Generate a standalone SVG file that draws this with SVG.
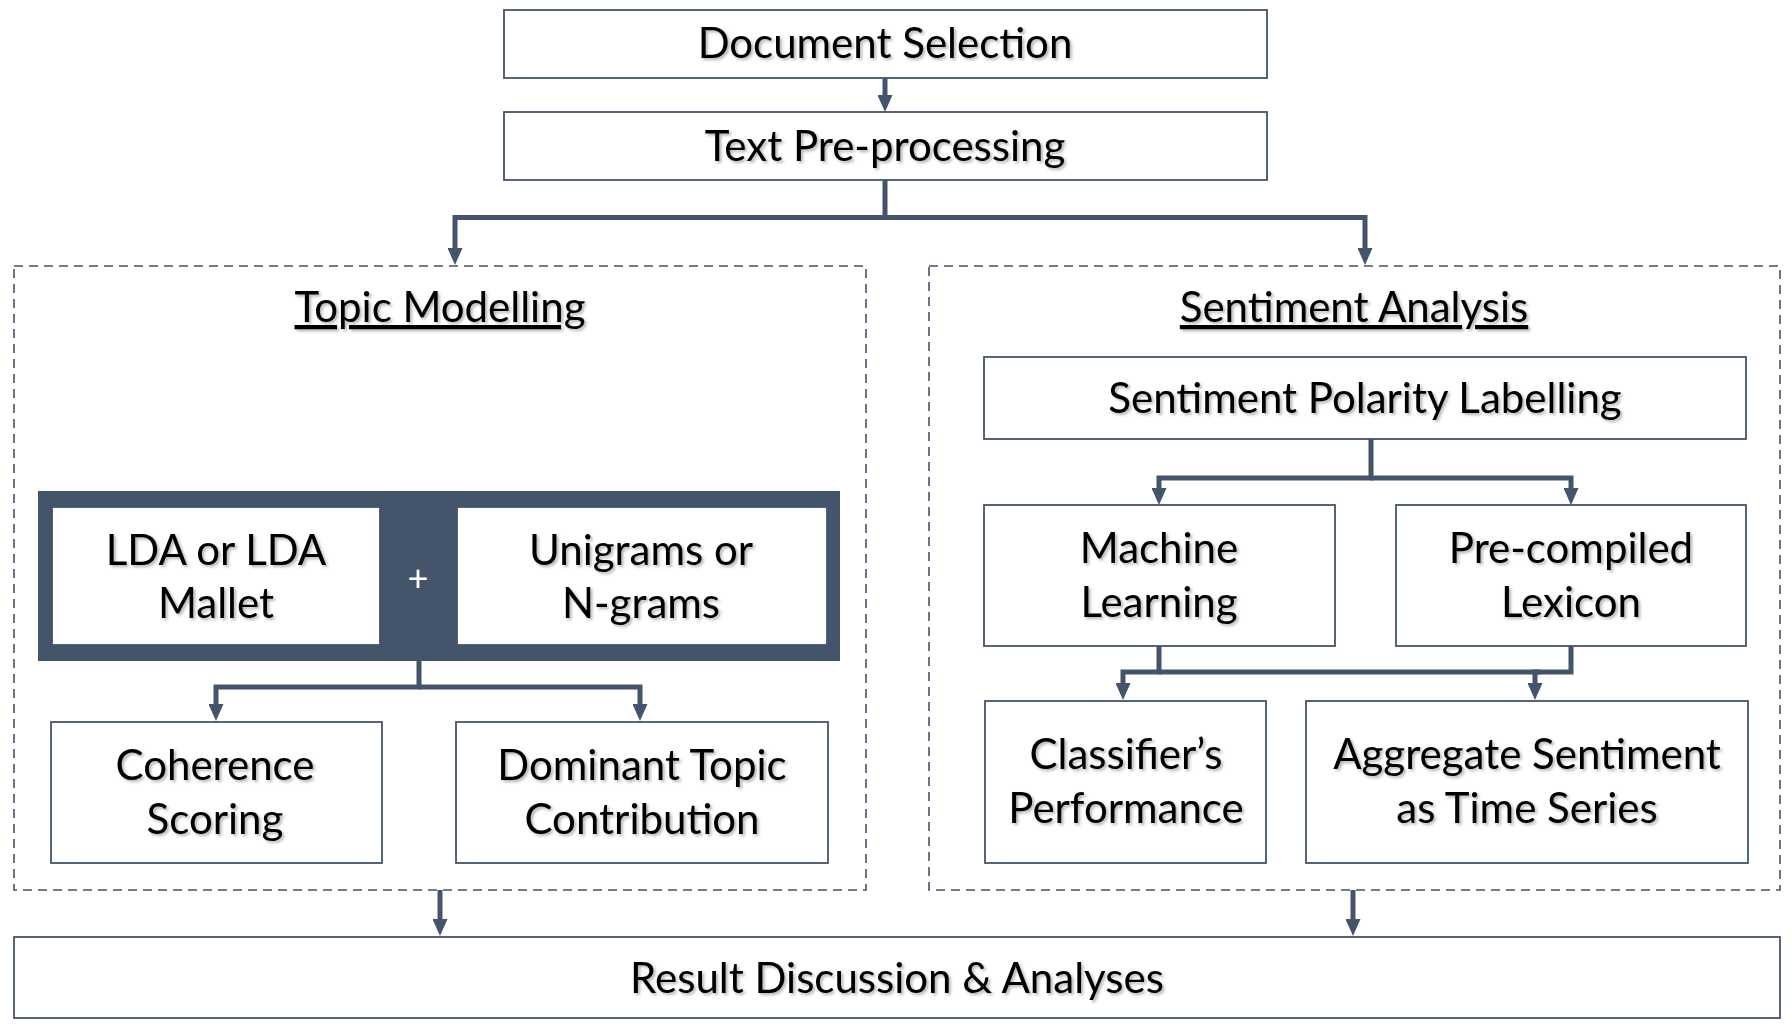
<svg xmlns="http://www.w3.org/2000/svg" width="1792" height="1029" viewBox="0 0 1792 1029">
<defs>
<style>
.box{fill:#fff;stroke:#44546A;stroke-width:1.8}
.dash{fill:none;stroke:#44546A;stroke-width:1.6;stroke-dasharray:9 6}
.t{font-family:Lato,"Open Sans",sans-serif;font-size:42px;fill:#000;text-anchor:middle;filter:url(#sh)}
.ttl{text-decoration:underline}
.c{fill:none;stroke:#44546A;stroke-width:5;stroke-linejoin:miter}
.a{marker-end:url(#ah)}
</style>
<filter id="sh" x="-10%" y="-30%" width="120%" height="160%">
<feDropShadow dx="2" dy="2" stdDeviation="1.5" flood-color="#000" flood-opacity="0.3"/>
</filter>
<marker id="ah" viewBox="0 0 17 15" refX="2" refY="7.5" markerWidth="17" markerHeight="15" markerUnits="userSpaceOnUse" orient="auto">
<path d="M0,0 L17,7.5 L0,15 z" fill="#44546A"/>
</marker>
</defs>
<rect width="1792" height="1029" fill="#fff"/>

<g id="topic-modelling-group">
<rect class="dash" x="14" y="266" width="852" height="624"/>
<text class="t ttl" x="440" y="322">Topic Modelling</text>
</g>
<g id="sentiment-analysis-group">
<rect class="dash" x="929" y="266" width="851" height="624"/>
<text class="t ttl" x="1354" y="322">Sentiment Analysis</text>
</g>

<g id="connectors">
<path class="c a" d="M885,78 V97"/>
<path class="c a" d="M885,180 V217.5 H455 V250"/>
<path class="c a" d="M885,217.5 H1365 V250"/>
<path class="c a" d="M419,661 V687 H216 V706"/>
<path class="c a" d="M419,687 H640 V706"/>
<path class="c a" d="M1371,439 V478 H1159 V490"/>
<path class="c a" d="M1371,478 H1571 V490"/>
<path class="c a" d="M1159,646 V672 H1123 V685"/>
<path class="c a" d="M1571,646 V672 H1535 V685"/>
<path class="c" d="M1159,672 H1540"/>
<path class="c a" d="M440,890 V921"/>
<path class="c a" d="M1353,890 V921"/>
</g>

<g id="document-selection">
<rect class="box" x="504" y="10" width="763" height="68"/>
<text class="t" x="885" y="58">Document Selection</text>
</g>
<g id="text-preprocessing">
<rect class="box" x="504" y="112" width="763" height="68"/>
<text class="t" x="885" y="161">Text Pre-processing</text>
</g>

<g id="lda-ngrams">
<rect x="38" y="491" width="802" height="170" fill="#44546A"/>
<text x="418" y="591" font-family="Lato,sans-serif" font-size="36" fill="#fff" text-anchor="middle">+</text>
</g>
<g id="lda">
<rect class="box" x="52" y="507" width="328" height="138" stroke="#8497B0"/>
<text class="t" x="216" y="565">LDA or LDA</text>
<text class="t" x="216" y="618">Mallet</text>
</g>
<g id="unigrams">
<rect class="box" x="457" y="507" width="370" height="138" stroke="#8497B0"/>
<text class="t" x="641" y="565">Unigrams or</text>
<text class="t" x="641" y="618">N-grams</text>
</g>
<g id="coherence">
<rect class="box" x="51" y="722" width="331" height="141"/>
<text class="t" x="215" y="780">Coherence</text>
<text class="t" x="215" y="834">Scoring</text>
</g>
<g id="dominant-topic">
<rect class="box" x="456" y="722" width="372" height="141"/>
<text class="t" x="642" y="780">Dominant Topic</text>
<text class="t" x="642" y="834">Contribution</text>
</g>

<g id="sentiment-polarity">
<rect class="box" x="984" y="357" width="762" height="82"/>
<text class="t" x="1365" y="413">Sentiment Polarity Labelling</text>
</g>
<g id="machine-learning">
<rect class="box" x="984" y="505" width="351" height="141"/>
<text class="t" x="1159" y="563">Machine</text>
<text class="t" x="1159" y="617">Learning</text>
</g>
<g id="lexicon">
<rect class="box" x="1396" y="505" width="350" height="141"/>
<text class="t" x="1571" y="563">Pre-compiled</text>
<text class="t" x="1571" y="617">Lexicon</text>
</g>
<g id="classifier">
<rect class="box" x="985" y="701" width="281" height="162"/>
<text class="t" x="1126" y="769">Classifier’s</text>
<text class="t" x="1126" y="823">Performance</text>
</g>
<g id="aggregate">
<rect class="box" x="1306" y="701" width="442" height="162"/>
<text class="t" x="1527" y="769">Aggregate Sentiment</text>
<text class="t" x="1527" y="823">as Time Series</text>
</g>

<g id="result">
<rect class="box" x="14" y="937" width="1766" height="81"/>
<text class="t" x="897" y="993">Result Discussion &amp; Analyses</text>
</g>
</svg>
